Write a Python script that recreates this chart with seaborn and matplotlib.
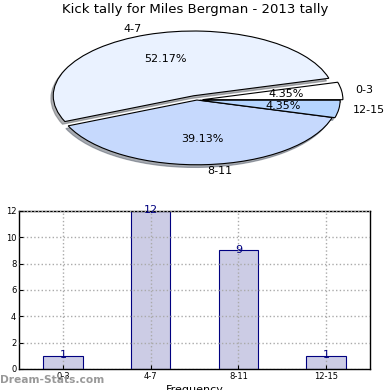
import pandas as pd
import matplotlib
matplotlib.use('Agg')
import matplotlib.pyplot as plt
import seaborn as sns

# data
ranges = ['0-3', '4-7', '8-11', '12-15']
kicks = [1, 12, 9, 1]
pie_colors = ['#ffffff', '#eaf2ff', '#c6d9fd', '#b5d5ff']
explode = [0.04, 0.07, 0.0, 0.02]

sns.set_style('white')
plt.rcParams['font.family'] = ['DejaVu Sans']
plt.rcParams.update({'text.color': 'black', 'axes.labelcolor': 'black',
                     'xtick.color': 'black', 'ytick.color': 'black'})

df = pd.DataFrame({'range': ranges, 'kicks': kicks})

fig = plt.figure(figsize=(3.9, 3.9), dpi=100)

# pie on top, squashed into a wide axes
ax_pie = fig.add_axes([0.055, 0.536, 0.9, 0.415])
wedges, texts, autotexts = ax_pie.pie(df['kicks'],
                                      labels=df['range'],
                                      colors=pie_colors,
                                      explode=explode,
                                      autopct='%.2f%%',
                                      startangle=0,
                                      shadow={'ox': -0.012, 'oy': -0.03, 'shade': 0.6},
                                      wedgeprops={'edgecolor': 'black', 'linewidth': 0.8})
for t in texts + autotexts:
    t.set_fontsize(8)
ax_pie.set_aspect('auto')
ax_pie.set_xlim(-1.25, 1.25)
ax_pie.set_ylim(-1.25, 1.25)
fig.text(0.5, 0.975, 'Kick tally for Miles Bergman - 2013 tally',
         ha='center', va='center', fontsize=9.5)

# bar chart underneath
ax_bar = fig.add_axes([0.049, 0.054, 0.9, 0.405])
sns.barplot(data=df, x='range', y='kicks', color='#ccccE5', saturation=1,
            edgecolor='navy', linewidth=0.8, width=0.45, ax=ax_bar)
ax_bar.set_xlim(-0.5, 3.5)
ax_bar.set_ylim(0, 12)
ax_bar.set_yticks(range(0, 13, 2))
ax_bar.tick_params(labelsize=6, direction='in', length=3, left=True, bottom=True, pad=2)
ax_bar.grid(True, linestyle=':', color='#aaaaaa', linewidth=1)
ax_bar.set_axisbelow(False)
for s in ax_bar.spines.values():
    s.set_visible(True)
    s.set_color('black')
    s.set_linewidth(1)
ax_bar.bar_label(ax_bar.containers[0], color='navy', fontsize=8, padding=-3)
ax_bar.set_xlabel('Frequency', fontsize=8, labelpad=3)
ax_bar.set_ylabel('Total Kick Tally', fontsize=8)
ax_bar.yaxis.set_label_coords(-0.052, 0.5)

fig.text(0.0, 0.025, 'Dream-Stats.com', color='#999999', fontsize=7.7,
         fontweight='bold', ha='left', va='center')

plt.savefig('out.png', dpi=100)
